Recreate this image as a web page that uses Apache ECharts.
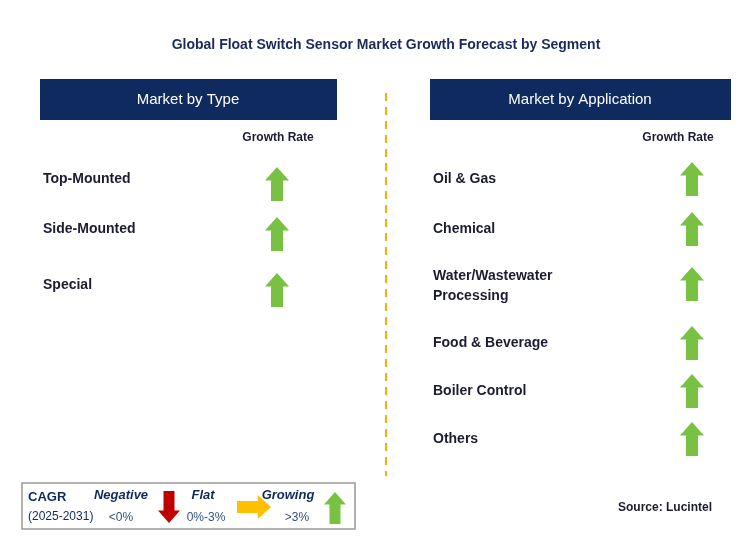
<!DOCTYPE html>
<html><head><meta charset="utf-8">
<script src="https://cdn.jsdelivr.net/npm/echarts@6/dist/echarts.min.js"></script>
<style>html,body{margin:0;padding:0;background:#fff}#c{width:746px;height:542px}</style>
</head><body><div id="c"></div>
<script>
const typeCategories = ['Top-Mounted', 'Side-Mounted', 'Special'];
const typeTrend = ['up', 'up', 'up'];
const appCategories = ['Oil & Gas', 'Chemical', 'Water/Wastewater\nProcessing', 'Food & Beverage', 'Boiler Control', 'Others'];
const appTrend = ['up', 'up', 'up', 'up', 'up', 'up'];
const typeRowY = [179, 229, 285];
const appRowY = [179, 229, 286, 343, 391, 439];

const navy = '#0f2a5f', green = '#78c143', txt = '#1c1c30';
const upPts = [[12,0],[24,13],[18,13],[18,33],[6,33],[6,13],[0,13]];
const downPts = [[6,0],[18,0],[18,20],[24,20],[12,33],[0,20],[6,20]];
const rightPts = [[0,6],[22,6],[22,0],[36,12],[22,24],[22,18],[0,18]];
const g = [];
function arrow(cx, cy, color, pts, w, h, bw, bh){
  g.push({type:'polygon', shape:{points:pts.map(p=>[cx-w/2+p[0]*w/bw, cy-h/2+p[1]*h/bh])}, style:{fill:color}});
}
function text(x, y, t, opt){
  g.push({type:'text', x, y, style:Object.assign({text:t, fill:txt, font:'bold 14px Arial', textVerticalAlign:'middle'}, opt||{})});
}
text(386, 45, 'Global Float Switch Sensor Market Growth Forecast by Segment', {fill:'#1b2a5a', textAlign:'center', font:'bold 14px Arial'});
[[40,297,'Market by Type',188],[430,301,'Market by Application',580]].forEach(([x,w,t,cx])=>{
  g.push({type:'rect', shape:{x, y:79, width:w, height:41}, style:{fill:navy}});
  text(cx, 100, t, {fill:'#fff', textAlign:'center', font:'15px Arial'});
});
g.push({type:'line', shape:{x1:386,y1:93,x2:386,y2:476}, style:{stroke:'#f5b000', lineWidth:2, lineDash:[8,6]}});
text(278, 138, 'Growth Rate', {textAlign:'center', font:'bold 12px Arial'});
text(678, 138, 'Growth Rate', {textAlign:'center', font:'bold 12px Arial'});
typeCategories.forEach((c,i)=>{ text(43, typeRowY[i], c); arrow(277, typeRowY[i]+5, green, upPts, 24, 34, 24, 33); });
appCategories.forEach((c,i)=>{ text(433, appRowY[i], c, {lineHeight:20}); arrow(692, appRowY[i]+(i==2?-2:0), green, upPts, 24, 34, 24, 33); });
g.push({type:'rect', shape:{x:22, y:483, width:333, height:46}, style:{fill:'#fff', stroke:'#999', lineWidth:1.5}});
text(28, 497, 'CAGR', {fill:navy, font:'bold 13px Arial'});
text(28, 517, '(2025-2031)', {fill:navy, font:'12px Arial'});
text(121, 495, 'Negative', {fill:navy, textAlign:'center', font:'bold italic 13px Arial'});
text(121, 518, '<0%', {fill:'#34507e', textAlign:'center', font:'12px Arial'});
arrow(169, 507, '#c00000', downPts, 22, 32, 24, 33);
text(203, 495, 'Flat', {fill:navy, textAlign:'center', font:'bold italic 13px Arial'});
text(206, 518, '0%-3%', {fill:'#34507e', textAlign:'center', font:'12px Arial'});
arrow(254, 507, '#ffc000', rightPts, 34, 24, 36, 24);
text(288, 495, 'Growing', {fill:navy, textAlign:'center', font:'bold italic 13px Arial'});
text(297, 518, '>3%', {fill:'#34507e', textAlign:'center', font:'12px Arial'});
arrow(335, 508, green, upPts, 22, 32, 24, 33);
text(618, 508, 'Source: Lucintel', {font:'bold 12px Arial'});
const chart = echarts.init(document.getElementById('c'));
chart.setOption({animation:false, graphic:g});
</script></body></html>
